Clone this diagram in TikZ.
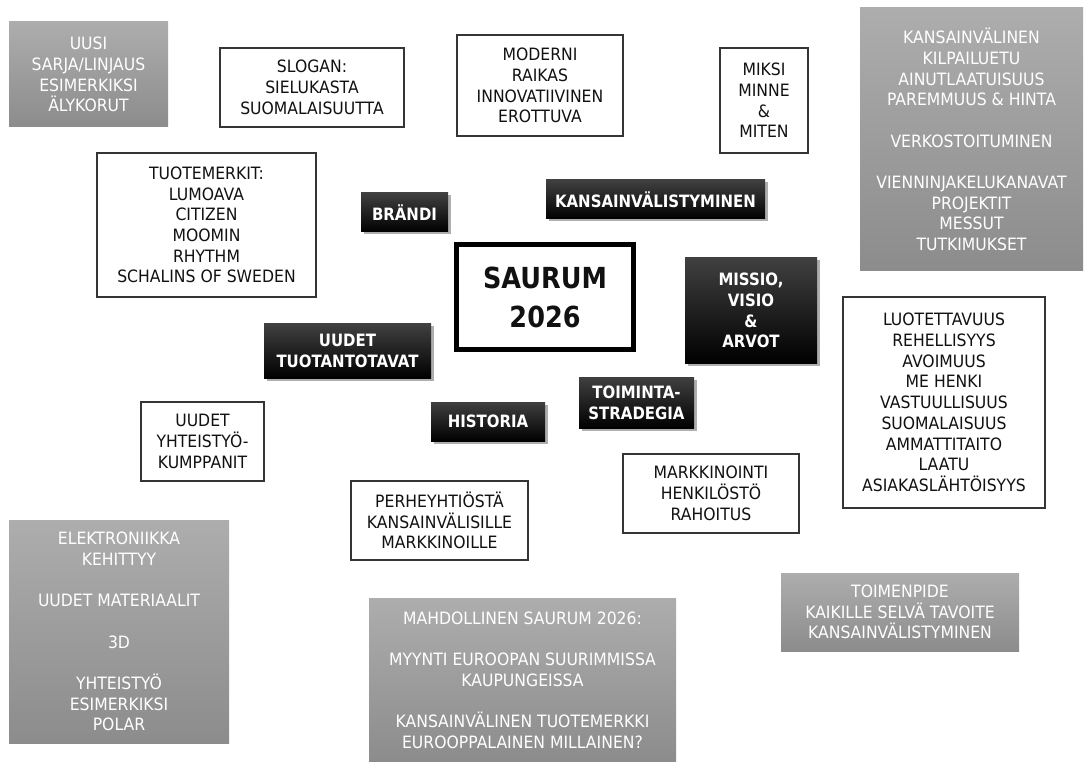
\documentclass[tikz,border=0pt]{standalone}
\usepackage{fontspec}
\setmainfont{DejaVu Sans}[FakeStretch=0.92]
\newfontfamily\boldfam{DejaVu Sans Bold}[FakeStretch=0.88]
\usetikzlibrary{shadows}
\definecolor{txt}{HTML}{111111}
\definecolor{grtop}{HTML}{ADADAD}
\definecolor{grbot}{HTML}{8C8C8C}
\definecolor{bktop}{HTML}{404040}
\tikzset{
  box/.style={draw=txt!85, line width=1.2pt, fill=white, text=txt, align=center,
    inner sep=0pt, font=\fontsize{17}{20.7}\selectfont},
  graybox/.style={top color=grtop, bottom color=grbot, draw=none, text=white, align=center,
    inner sep=0pt, font=\fontsize{17}{20.7}\selectfont},
  blackbox/.style={top color=bktop, bottom color=black, draw=none, text=white, align=center,
    inner sep=0pt, font=\boldfam\fontsize{17}{20.7}\selectfont,
    drop shadow={shadow xshift=2.5pt, shadow yshift=-2.5pt, fill=black!45, opacity=0.7}},
  mainbox/.style={draw=black, line width=5pt, fill=white, text=txt, align=center,
    inner sep=0pt, font=\boldfam\fontsize{29}{39}\selectfont},
}
\begin{document}
\begin{tikzpicture}[x=1pt,y=-1pt]
\useasboundingbox (0,0) rectangle (1088,762);
\fill[white] (0,0) rectangle (1088,762);

\node[graybox, minimum width=159pt, minimum height=105pt] (uusi) at (88.5,74.5)
  {UUSI\\SARJA/LINJAUS\\ESIMERKIKSI\\ÄLYKORUT};
\node[box, minimum width=184pt, minimum height=79pt] (slogan) at (312,87.5)
  {SLOGAN:\\SIELUKASTA\\SUOMALAISUUTTA};
\node[box, minimum width=219pt, minimum height=144pt] (tuote) at (206.5,225)
  {TUOTEMERKIT:\\LUMOAVA\\CITIZEN\\MOOMIN\\RHYTHM\\SCHALINS OF SWEDEN};
\node[box, minimum width=166pt, minimum height=101pt] (moderni) at (540,85.5)
  {MODERNI\\RAIKAS\\INNOVATIIVINEN\\EROTTUVA};
\node[box, minimum width=88pt, minimum height=105pt] (miksi) at (764,100.5)
  {MIKSI\\MINNE\\\&\\MITEN};
\node[blackbox, minimum width=87pt, minimum height=39pt] (brandi) at (404.5,212.5)
  {BRÄNDI};
\node[blackbox, minimum width=219pt, minimum height=39pt] (kv) at (655.5,199.5)
  {KANSAINVÄLISTYMINEN};
\node[mainbox, minimum width=177pt, minimum height=105pt] (saurum) at (545,297)
  {SAURUM\\2026};
\node[blackbox, minimum width=132pt, minimum height=105pt] (missio) at (751,310.5)
  {MISSIO,\\VISIO\\\&\\ARVOT};
\node[graybox, minimum width=223pt, minimum height=263pt] (kilpailu) at (971.5,139.5)
  {KANSAINVÄLINEN\\KILPAILUETU\\AINUTLAATUISUUS\\PAREMMUUS \& HINTA\\[20.7pt]VERKOSTOITUMINEN\\[20.7pt]VIENNINJAKELUKANAVAT\\PROJEKTIT\\MESSUT\\TUTKIMUKSET};
\node[box, minimum width=202pt, minimum height=211pt] (arvot) at (944,402.5)
  {LUOTETTAVUUS\\REHELLISYYS\\AVOIMUUS\\ME HENKI\\VASTUULLISUUS\\SUOMALAISUUS\\AMMATTITAITO\\LAATU\\ASIAKASLÄHTÖISYYS};
\node[blackbox, minimum width=167pt, minimum height=54pt] (tuotanto) at (347.5,351)
  {UUDET\\TUOTANTOTAVAT};
\node[box, minimum width=123pt, minimum height=79pt] (yhteistyo) at (202.5,441.5)
  {UUDET\\YHTEISTYÖ-\\KUMPPANIT};
\node[blackbox, minimum width=114pt, minimum height=39pt] (historia) at (488,421.5)
  {HISTORIA};
\node[blackbox, minimum width=115pt, minimum height=51pt] (toiminta) at (636.5,402.5)
  {TOIMINTA-\\STRADEGIA};
\node[box, minimum width=177pt, minimum height=79pt] (perhe) at (439.5,520.5)
  {PERHEYHTIÖSTÄ\\KANSAINVÄLISILLE\\MARKKINOILLE};
\node[box, minimum width=176pt, minimum height=79pt] (markk) at (711,493.5)
  {MARKKINOINTI\\HENKILÖSTÖ\\RAHOITUS};
\node[graybox, minimum width=220pt, minimum height=223pt] (elektro) at (119,631.5)
  {ELEKTRONIIKKA\\KEHITTYY\\[20.7pt]UUDET MATERIAALIT\\[20.7pt]3D\\[20.7pt]YHTEISTYÖ\\ESIMERKIKSI\\POLAR};
\node[graybox, minimum width=307pt, minimum height=164pt] (mahd) at (522.5,680)
  {MAHDOLLINEN SAURUM 2026:\\[20.7pt]MYYNTI EUROOPAN SUURIMMISSA\\KAUPUNGEISSA\\[20.7pt]KANSAINVÄLINEN TUOTEMERKKI\\EUROOPPALAINEN MILLAINEN?};
\node[graybox, minimum width=238pt, minimum height=78pt] (toimenpide) at (900,612)
  {TOIMENPIDE\\KAIKILLE SELVÄ TAVOITE\\KANSAINVÄLISTYMINEN};
\end{tikzpicture}
\end{document}
